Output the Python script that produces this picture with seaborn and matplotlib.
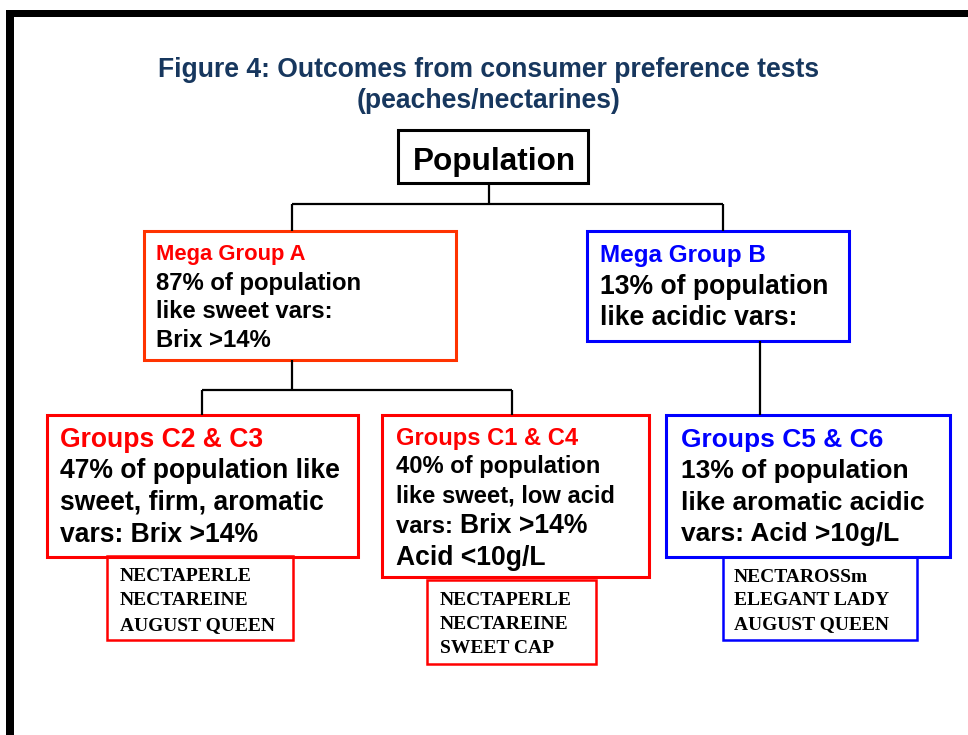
import matplotlib
matplotlib.use("Agg")
import matplotlib.pyplot as plt
import matplotlib.patches as mpatches
import seaborn as sns

sns.set_theme(style="white")
plt.rcParams['font.family'] = ['Liberation Sans', 'DejaVu Sans']

# ---------------- data (text content) ----------------
title_lines = ["Figure 4: Outcomes from consumer preference tests", "(peaches/nectarines)"]
root_label = "Population"
mega_a_lines = ["Mega Group A", "87% of population", "like sweet vars:", "Brix >14%"]
mega_b_lines = ["Mega Group B", "13% of population", "like acidic vars:"]
c23_lines = ["Groups C2 & C3", "47% of population like", "sweet, firm, aromatic", "vars: Brix >14%"]
c14_lines = ["Groups C1 & C4", "40% of population", "like sweet, low acid", ["vars: ", "Brix >14%"], "Acid <10g/L"]
c56_lines = ["Groups C5 & C6", "13% of population", "like aromatic acidic", "vars: Acid >10g/L"]
c23_varieties = ["NECTAPERLE", "NECTAREINE", "AUGUST QUEEN"]
c14_varieties = ["NECTAPERLE", "NECTAREINE", "SWEET CAP"]
c56_varieties = ["NECTAROSSm", "ELEGANT LADY", "AUGUST QUEEN"]

# ---------------- layout ----------------
W, H = 968, 735
fig = plt.figure(figsize=(W / 100, H / 100), dpi=100)
ax = fig.add_axes([0, 0, 1, 1])
ax.set_xlim(0, W)
ax.set_ylim(H, 0)
ax.axis("off")

RED = "#FF0000"
ORANGE = "#FF3300"
BLUE = "#0000FF"
NAVY = "#17375E"

# outer frame (top and left edges visible)
ax.add_patch(mpatches.Rectangle((6, 10), W, 7, color="black", lw=0))
ax.add_patch(mpatches.Rectangle((6, 10), 8, H, color="black", lw=0))

# title
ax.text(489, 77, title_lines[0], ha="center", va="baseline", fontsize=19.1,
        fontweight="bold", color=NAVY)
ax.text(489, 108, title_lines[1], ha="center", va="baseline", fontsize=19.1,
        fontweight="bold", color=NAVY)


def box(x0, y0, x1, y1, color, lw):
    ax.add_patch(mpatches.Rectangle((x0, y0), x1 - x0, y1 - y0, fill=False,
                                    edgecolor=color, lw=lw, joinstyle="miter"))


def line(xs, ys):
    ax.plot(xs, ys, color="black", lw=1.6, solid_capstyle="butt")


# connectors
line([489, 489], [183, 204])
line([292, 723], [204, 204])
line([292, 292], [204, 231])
line([723, 723], [204, 231])
line([292, 292], [360, 390])
line([202, 512], [390, 390])
line([202, 202], [390, 415])
line([512, 512], [390, 415])
line([760, 760], [341, 415])

# root box
box(398, 130, 588, 183, "black", 2.2)
ax.text(494, 170, root_label, ha="center", va="baseline", fontsize=22.7,
        fontweight="bold", color="black")

# Mega Group A
box(144, 231, 456, 360, ORANGE, 2.2)
ys = [260, 290, 318, 347]
for i, (t, y) in enumerate(zip(mega_a_lines, ys)):
    ax.text(156, y, t, ha="left", va="baseline", fontweight="bold",
            fontsize=15.8 if i == 0 else 17.2, color=RED if i == 0 else "black")

# Mega Group B
box(587, 231, 849, 341, BLUE, 2.2)
ys = [262, 294, 325]
for i, (t, y) in enumerate(zip(mega_b_lines, ys)):
    ax.text(600, y, t, ha="left", va="baseline", fontweight="bold",
            fontsize=17.5 if i == 0 else 19.1, color=BLUE if i == 0 else "black")

# Groups C2 & C3
box(47, 415, 358, 557, RED, 2.2)
ys = [447, 478, 510, 542]
for i, (t, y) in enumerate(zip(c23_lines, ys)):
    ax.text(60, y, t, ha="left", va="baseline", fontweight="bold",
            fontsize=19.1, color=RED if i == 0 else "black")

# Groups C1 & C4
box(382, 415, 649, 577, RED, 2.2)
ys = [445, 473, 502, 533, 565]
sizes = [17.1, 17.1, 17.1, None, 19.1]
fig.canvas.draw()
renderer = fig.canvas.get_renderer()
for i, (t, y) in enumerate(zip(c14_lines, ys)):
    if isinstance(t, list):
        t1 = ax.text(396, y, t[0], ha="left", va="baseline", fontweight="bold",
                     fontsize=17.1, color="black")
        bb = t1.get_window_extent(renderer=renderer)
        x_next = 396 + bb.width * (W / fig.bbox.width)
        ax.text(x_next, y, t[1], ha="left", va="baseline", fontweight="bold",
                fontsize=19.1, color="black")
    else:
        ax.text(396, y, t, ha="left", va="baseline", fontweight="bold",
                fontsize=sizes[i], color=RED if i == 0 else "black")

# Groups C5 & C6
box(666, 415, 950, 557, BLUE, 2.2)
ys = [447, 478, 510, 541]
for i, (t, y) in enumerate(zip(c56_lines, ys)):
    ax.text(681, y, t, ha="left", va="baseline", fontweight="bold",
            fontsize=19.0, color=BLUE if i == 0 else "black")

# variety boxes
serif = ["Liberation Serif", "DejaVu Serif"]
for (x0, y0, x1, y1, col, tx, bases, names) in [
    (107, 556, 293, 640, RED, 120, [581, 605, 630], c23_varieties),
    (427, 580, 596, 664, RED, 440, [605, 629, 653], c14_varieties),
    (723, 557, 917, 640, BLUE, 734, [582, 605, 629], c56_varieties),
]:
    box(x0, y0, x1, y1, col, 1.8)
    for name, y in zip(names, bases):
        ax.text(tx, y, name, ha="left", va="baseline", fontweight="bold",
                fontsize=14.0, family=serif, color="black")

fig.savefig("out.png", dpi=100)
